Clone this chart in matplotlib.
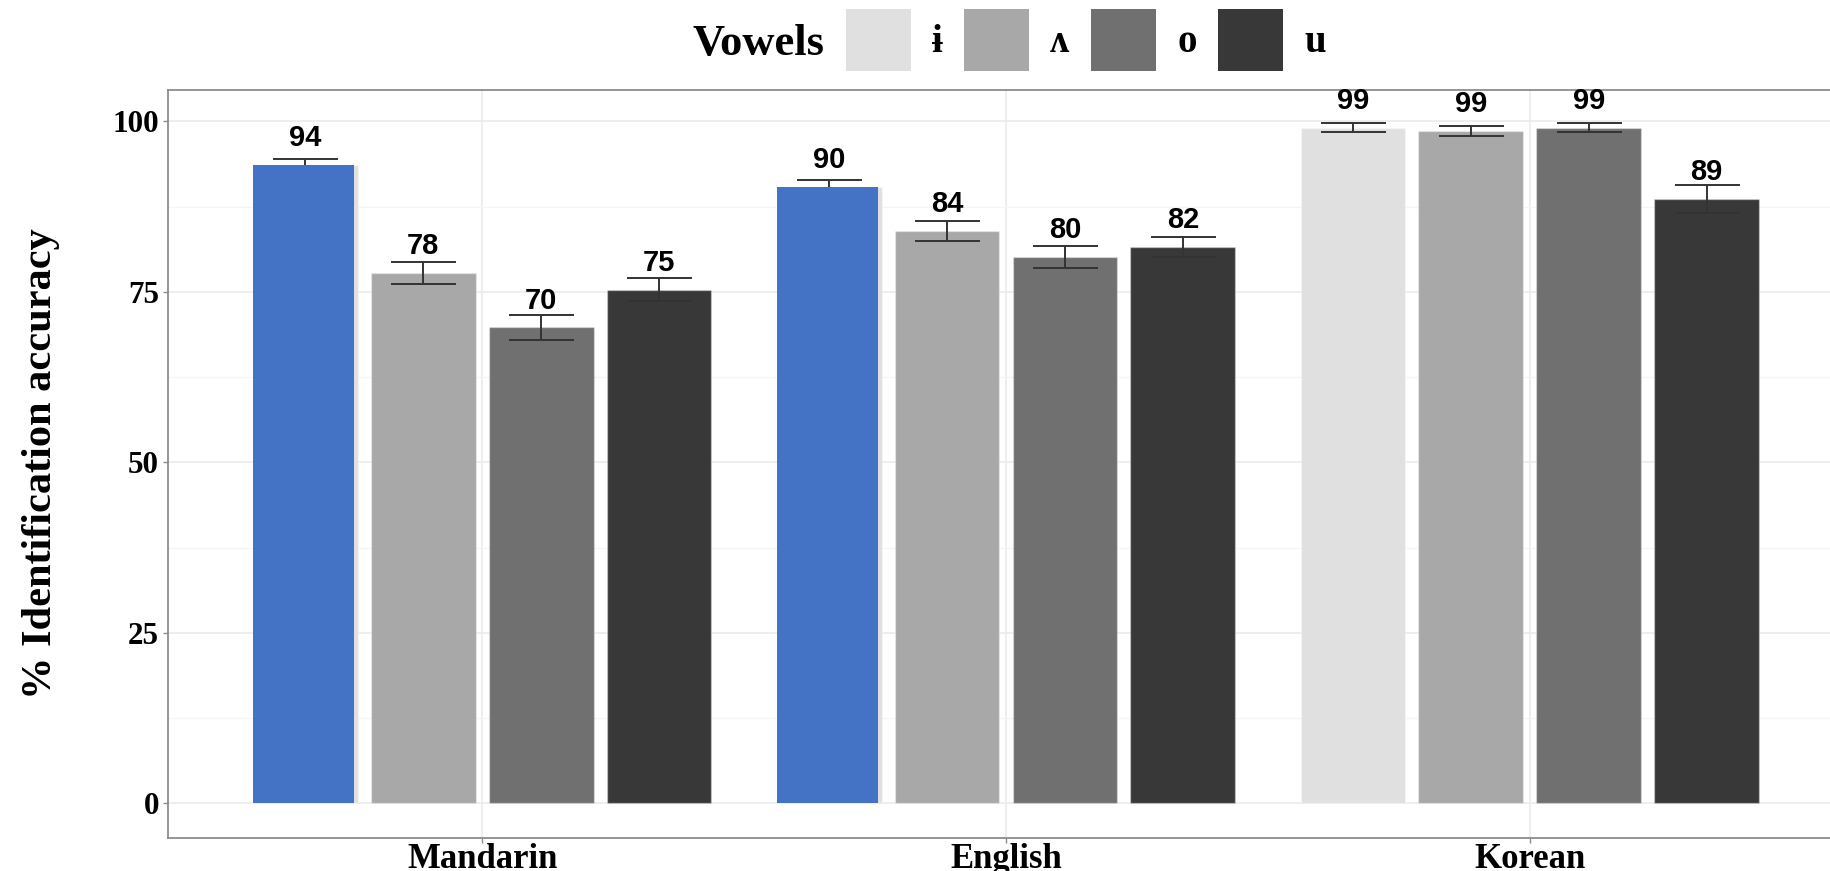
import matplotlib
matplotlib.use("Agg")
import matplotlib.pyplot as plt
import numpy as np
from matplotlib.patches import Patch

SERIF = ["Liberation Serif", "DejaVu Serif"]
SANS = ["Liberation Sans", "DejaVu Sans"]

languages = ["Mandarin", "English", "Korean"]
vowels = ["ɨ", "ʌ", "o", "u"]
colors = ["#e0e0e0", "#a8a8a8", "#707070", "#383838"]
highlight_blue = "#4472c4"
highlighted = ["Mandarin", "English"]   # ɨ bars painted blue

# mean identification accuracy (%) per vowel, one value per language
acc_i = [93.6, 90.4, 99.1]
acc_wedge = [77.8, 83.9, 98.6]
acc_o = [69.8, 80.1, 99.1]
acc_u = [75.3, 81.6, 88.6]
# standard errors
se_i = [0.9, 1.0, 0.63]
se_wedge = [1.6, 1.45, 0.75]
se_o = [1.85, 1.55, 0.63]
se_u = [1.7, 1.5, 2.1]

means = [acc_i, acc_wedge, acc_o, acc_u]
errs = [se_i, se_wedge, se_o, se_u]

fig = plt.figure(figsize=(18.3, 8.71), dpi=100)
fig.patch.set_facecolor("white")
ax = fig.add_axes([168 / 1830, 33 / 871, 1676 / 1830, 748 / 871])

x = np.arange(1, len(languages) + 1)
dodge = 0.225
width = 0.2

for i, (vals, se) in enumerate(zip(means, errs)):
    xs = x + (i - 1.5) * dodge
    ax.bar(xs, vals, width=width, color=colors[i], edgecolor=(1, 1, 1, 0.35),
           linewidth=1.0, zorder=2)
    ax.errorbar(xs, vals, yerr=se, fmt="none", ecolor="#333333",
                elinewidth=1.4, capsize=23.4, capthick=1.4, zorder=3)
    for xx, v in zip(xs, vals):
        ax.text(xx, v + 2.75, f"{v:.0f}", ha="center", va="baseline",
                fontsize=21, fontweight="bold", family=SANS, color="black",
                zorder=5)
    if i == 0:
        # blue overlay on the highlighted ɨ bars
        for xx, v, lang in zip(xs, vals, languages):
            if lang in highlighted:
                ax.bar(xx - width / 2, v, width=width * 0.967, align="edge",
                       color=highlight_blue, linewidth=0, zorder=4)

ax.set_xlim(0.4, 3.6)
ax.set_ylim(-5.1, 104.6)
ax.set_yticks([0, 25, 50, 75, 100])
ax.set_yticks(np.arange(12.5, 100, 25), minor=True)
ax.set_xticks(x)
ax.set_xticklabels(languages)

ax.grid(True, which="major", color="#ebebeb", linewidth=1.2, zorder=0)
ax.grid(True, which="minor", axis="y", color="#f5f5f5", linewidth=1.0, zorder=0)
ax.set_axisbelow(True)

for sp in ax.spines.values():
    sp.set_color("#8c8c8c")
    sp.set_linewidth(1.3)

ax.tick_params(axis="y", which="major", length=3.6, width=1.0, color="#8c8c8c",
               pad=2.9, labelsize=22.4)
ax.tick_params(axis="y", which="minor", length=0)
ax.tick_params(axis="x", length=3.6, width=1.0, color="#8c8c8c", pad=0,
               labelsize=25)
for lab in ax.get_yticklabels() + ax.get_xticklabels():
    lab.set_family(SERIF)
    lab.set_fontweight("bold")

ax.set_ylabel("% Identification accuracy", fontsize=30.5, fontweight="bold",
              family=SERIF)
ax.yaxis.set_label_coords(-0.0644, 0.5)

# legend across the top
fig.text(692.7 / 1830, 1 - 55 / 871, "Vowels", fontsize=32, fontweight="bold",
         family=SERIF, va="baseline", ha="left")
handles = [Patch(facecolor=c, edgecolor="none") for c in colors]
leg = fig.legend(handles, vowels, ncol=4, loc="upper left",
                 bbox_to_anchor=(845.7 / 1830, 1 - 9 / 871),
                 frameon=False, borderpad=0, borderaxespad=0,
                 handlelength=1.67, handleheight=2.06, handletextpad=0.54,
                 columnspacing=0.56,
                 prop={"family": SERIF, "weight": "bold", "size": 28})

fig.savefig("out.png", dpi=100)
